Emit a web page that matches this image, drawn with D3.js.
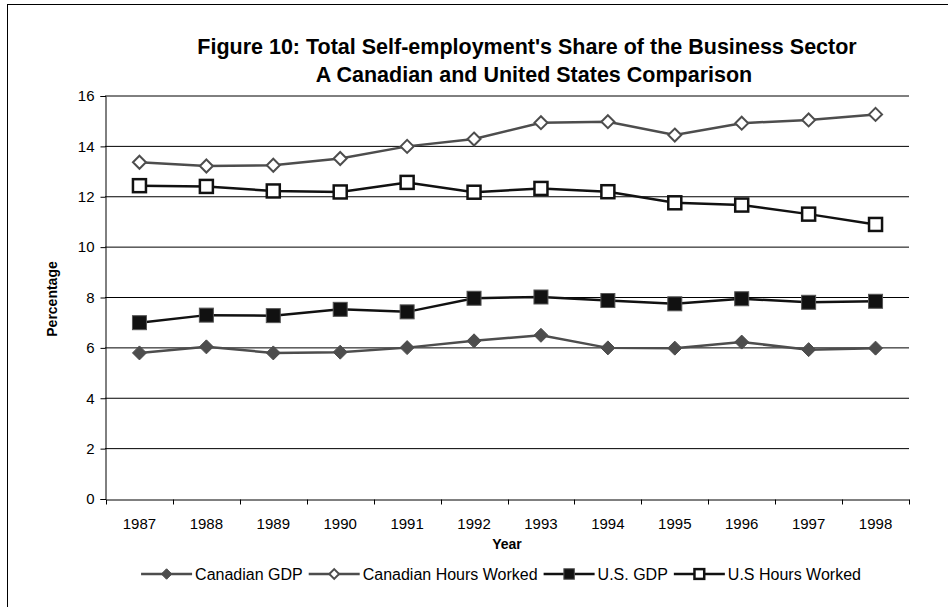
<!DOCTYPE html>
<html>
<head>
<meta charset="utf-8">
<script src="https://cdn.jsdelivr.net/npm/d3@7"></script>
<style>
  body { margin: 0; background: #fff; }
  text { font-family: "Liberation Sans", Arial, sans-serif; }
</style>
</head>
<body>
<div id="chart"></div>
<script>
var years = [1987, 1988, 1989, 1990, 1991, 1992, 1993, 1994, 1995, 1996, 1997, 1998];
var canadianGdp = [5.80, 6.04, 5.80, 5.83, 6.01, 6.28, 6.50, 6.00, 5.99, 6.23, 5.93, 5.99];
var canadianHours = [13.37, 13.22, 13.25, 13.52, 14.00, 14.29, 14.94, 14.98, 14.45, 14.92, 15.05, 15.27];
var usGdp = [7.00, 7.30, 7.28, 7.53, 7.43, 7.97, 8.02, 7.88, 7.75, 7.95, 7.81, 7.85];
var usHours = [12.44, 12.41, 12.23, 12.19, 12.57, 12.18, 12.33, 12.20, 11.76, 11.67, 11.31, 10.90];
var yTicks = [0, 2, 4, 6, 8, 10, 12, 14, 16];

var width = 948;
var height = 607;

var series = [
  { name: 'Canadian GDP', values: canadianGdp, color: '#4d4d4d', width: 2.5, shape: 'diamond', filled: true },
  { name: 'Canadian Hours Worked', values: canadianHours, color: '#4d4d4d', width: 2.5, shape: 'diamond', filled: false },
  { name: 'U.S. GDP', values: usGdp, color: '#111', width: 2.5, shape: 'square', filled: true },
  { name: 'U.S Hours Worked', values: usHours, color: '#111', width: 2.5, shape: 'square', filled: false }
];

var svg = d3.select('#chart')
  .append('svg')
  .attr('width', width)
  .attr('height', height);

// outer frame (runs off the right and bottom edges like the original)
svg.append('rect')
  .attr('x', 7.5).attr('y', 4.5)
  .attr('width', 1000).attr('height', 1000)
  .attr('fill', 'none')
  .attr('stroke', '#000')
  .attr('stroke-width', 1);

var x = d3.scaleBand()
  .domain(years)
  .range([106, 909]);

var y = d3.scaleLinear()
  .domain([0, 16])
  .range([499, 96]);

// gridlines
svg.append('g')
  .selectAll('line')
  .data(yTicks.slice(1))
  .enter()
  .append('line')
  .attr('x1', 105).attr('x2', 909)
  .attr('y1', d => y(d)).attr('y2', d => y(d))
  .attr('stroke', '#000')
  .attr('stroke-width', 1);

// y axis
var yAxis = svg.append('g')
  .attr('transform', 'translate(105.5,0)')
  .call(d3.axisLeft(y).tickValues(yTicks).tickSize(5).tickPadding(6));
yAxis.selectAll('text').style('font-size', '15px').attr('fill', '#000');
yAxis.selectAll('line, path').attr('stroke', '#000');

// x axis
var xAxis = svg.append('g')
  .attr('transform', 'translate(0,499.5)')
  .call(d3.axisBottom(x).tickSize(0).tickPadding(19));
xAxis.selectAll('text').style('font-size', '15px').attr('fill', '#000');
xAxis.select('path').attr('stroke', '#000');
xAxis.selectAll('.boundary')
  .data(years.concat([null]))
  .enter()
  .append('line')
  .attr('class', 'boundary')
  .attr('x1', (d, i) => Math.round(x.range()[0] + i * x.bandwidth()) + 0.5)
  .attr('x2', (d, i) => Math.round(x.range()[0] + i * x.bandwidth()) + 0.5)
  .attr('y1', 0).attr('y2', 5)
  .attr('stroke', '#000');

// axis titles
svg.append('text')
  .attr('x', 507).attr('y', 549)
  .attr('text-anchor', 'middle')
  .style('font-size', '14px').style('font-weight', 'bold')
  .text('Year');

svg.append('text')
  .attr('transform', 'translate(57,299) rotate(-90)')
  .attr('text-anchor', 'middle')
  .style('font-size', '14px').style('font-weight', 'bold')
  .text('Percentage');

// title
svg.append('text')
  .attr('x', 527).attr('y', 54)
  .attr('text-anchor', 'middle')
  .style('font-size', '21.5px').style('font-weight', 'bold')
  .text("Figure 10: Total Self-employment's Share of the Business Sector");
svg.append('text')
  .attr('x', 534).attr('y', 82)
  .attr('text-anchor', 'middle')
  .style('font-size', '21.5px').style('font-weight', 'bold')
  .text('A Canadian and United States Comparison');

function drawMarker(sel, s, cx, cy, scale) {
  if (s.shape === 'diamond') {
    var r = (s.filled ? 7 : 6.5) * scale;
    sel.append('path')
      .attr('d', 'M' + cx + ',' + (cy - r) + 'L' + (cx + r) + ',' + cy + 'L' + cx + ',' + (cy + r) + 'L' + (cx - r) + ',' + cy + 'Z')
      .attr('fill', s.filled ? s.color : '#fff')
      .attr('stroke', s.color)
      .attr('stroke-width', s.filled ? 1 : 2);
  } else {
    var h = (s.filled ? 7 : 6.5) * scale;
    sel.append('rect')
      .attr('x', cx - h).attr('y', cy - h)
      .attr('width', 2 * h).attr('height', 2 * h)
      .attr('fill', s.filled ? s.color : '#fff')
      .attr('stroke', s.filled ? '#555' : s.color)
      .attr('stroke-width', s.filled ? 1 : 2.5);
  }
}

var line = d3.line()
  .x((d, i) => x(years[i]) + x.bandwidth() / 2)
  .y(d => y(d));

series.forEach(function(s) {
  var g = svg.append('g');
  g.append('path')
    .attr('d', line(s.values))
    .attr('fill', 'none')
    .attr('stroke', s.color)
    .attr('stroke-width', s.width);
  s.values.forEach(function(v, i) {
    drawMarker(g, s, x(years[i]) + x.bandwidth() / 2, y(v), 1);
  });
});

// legend, laid out left to right from measured text widths
var legend = svg.append('g');
var cursor = 0;
series.forEach(function(s) {
  var g = legend.append('g');
  var ly = 574;
  g.append('line')
    .attr('x1', cursor).attr('x2', cursor + 51)
    .attr('y1', ly).attr('y2', ly)
    .attr('stroke', s.color)
    .attr('stroke-width', s.width);
  drawMarker(g, s, cursor + 25.5, ly, 0.75);
  var t = g.append('text')
    .attr('x', cursor + 54).attr('y', ly + 5.5)
    .style('font-size', '16px')
    .text(s.name);
  cursor += 54 + t.node().getComputedTextLength() + 6;
});
var legendWidth = cursor - 6;
legend.attr('transform', 'translate(' + (501 - legendWidth / 2) + ',0)');
</script>
</body>
</html>
